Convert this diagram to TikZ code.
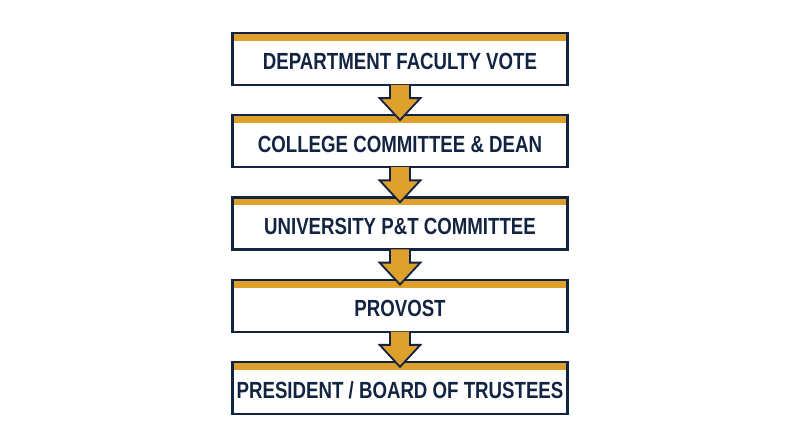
\documentclass[tikz,border=0pt]{standalone}
\usepackage{fontspec}
\setmainfont{Liberation Sans}[FakeStretch=0.8]
\definecolor{navyblue}{RGB}{18,36,66}
\definecolor{goldbar}{RGB}{222,160,45}
\usetikzlibrary{positioning}

\begin{document}
\begin{tikzpicture}[
    stagebox/.style={draw=navyblue, line width=1.6pt, fill=white, minimum width=8.375cm, minimum height=1.3cm,
        inner sep=0pt, text height=0.55cm, text depth=0pt, font=\fontsize{16.6}{19}\selectfont\bfseries, text=navyblue,
        path picture={\fill[goldbar] (path picture bounding box.north west) rectangle ([yshift=-0.2cm]path picture bounding box.north east);}},
    flowarrow/.style={fill=goldbar, draw=navyblue, line width=1.3pt, line join=miter}
]
    \useasboundingbox (0,0) rectangle (20,-11.175);

    % Etapas
    \node[stagebox] (dept) at (10,-1.475) {DEPARTMENT FACULTY VOTE};
    \node[stagebox, below=0.7cm of dept] (college) {COLLEGE COMMITTEE \& DEAN};
    \node[stagebox, below=0.7cm of college] (ptc) {UNIVERSITY P\&T COMMITTEE};
    \node[stagebox, below=0.7cm of ptc] (provost) {PROVOST};
    \node[stagebox, below=0.7cm of provost] (board) {PRESIDENT / BOARD OF TRUSTEES};

    % Flechas
    \foreach \a/\b in {dept/college, college/ptc, ptc/provost, provost/board} {
        \filldraw[flowarrow] ([xshift=-0.25cm,yshift=0.03cm]\a.south) -- ([xshift=-0.25cm,yshift=-0.3cm]\a.south)
            -- ([xshift=-0.51cm,yshift=-0.3cm]\a.south) -- ([yshift=-0.15cm]\b.north)
            -- ([xshift=0.51cm,yshift=-0.3cm]\a.south) -- ([xshift=0.25cm,yshift=-0.3cm]\a.south)
            -- ([xshift=0.25cm,yshift=0.03cm]\a.south);
    }
\end{tikzpicture}
\end{document}
